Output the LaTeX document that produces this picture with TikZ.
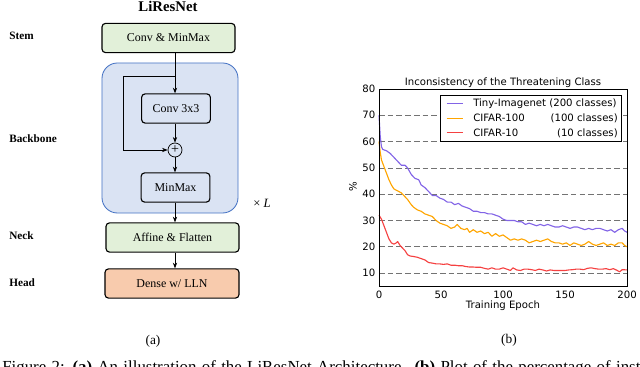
\documentclass[tikz,border=0pt]{standalone}
\usepackage{fontspec}
\setmainfont{Liberation Serif}
\newfontfamily\plotfont{DejaVu Sans}
\usetikzlibrary{arrows.meta, positioning, calc}

\definecolor{stemgreen}{RGB}{226,240,217}
\definecolor{bbfill}{RGB}{218,227,243}
\definecolor{bbdraw}{RGB}{68,114,196}
\definecolor{headfill}{RGB}{248,203,173}
\definecolor{tinypurple}{RGB}{130,100,230}
\definecolor{cifarorange}{RGB}{255,165,0}
\definecolor{cifarred}{RGB}{245,65,65}

\begin{document}
\begin{tikzpicture}[
    x=0.025cm, y=-0.025cm,
    block/.style={draw, rounded corners=2.5pt, line width=0.8pt, minimum height=0.73cm, inner sep=0pt, font=\fontsize{8.5}{10}\selectfont},
    block_green/.style={block, fill=stemgreen, minimum width=3.325cm},
    block_blue/.style={block, fill=bbfill, minimum width=1.72cm},
    block_head/.style={block, fill=headfill, minimum width=3.35cm},
    stage/.style={anchor=west, inner sep=0pt, font=\fontsize{8}{10}\selectfont\bfseries},
    arrow/.style={-{Stealth[length=4pt, width=3pt]}, line width=0.5pt},
    grid_line/.style={black!55, line width=0.45pt, dash pattern=on 4pt off 2.2pt},
    plot_txt/.style={inner sep=0pt, font=\plotfont\fontsize{7.2}{8.5}\selectfont},
    curve/.style={line width=0.8pt, line join=round},
]
\useasboundingbox (0,0) rectangle (640,367);

% (a) architecture
\node[anchor=base, font=\fontsize{10.5}{12}\selectfont\bfseries] (title_a) at (168,12) {LiResNet};

\node[draw=bbdraw, fill=bbfill, line width=0.6pt, rounded corners=11pt, minimum width=3.4cm, minimum height=3.75cm] (backbone) at (170,138) {};

\node[block_green] (stem) at (168.5,38) {Conv \& MinMax};
\node[block_blue] (conv) at (176,108.5) {Conv 3x3};
\node[draw, circle, fill=bbfill, line width=0.5pt, minimum size=0.35cm, inner sep=0pt, font=\fontsize{10}{10}\selectfont] (plus) at (175,150) {+};
\node[block_blue] (minmax) at (175.5,187.5) {MinMax};
\node[block_green] (neck) at (172.5,237.5) {Affine \& Flatten};
\node[block_head] (head) at (172,283.5) {Dense w/ LLN};

\node[font=\fontsize{9}{10}\selectfont] (repeat) at (262,203) {× \textit{L}};

\node[stage] (stem_lbl) at (9,36) {Stem};
\node[stage] (backbone_lbl) at (9,139) {Backbone};
\node[stage] (neck_lbl) at (9,236) {Neck};
\node[stage] (head_lbl) at (9,283) {Head};

% main path
\draw[arrow] (stem.south -| plus) -- (conv.north -| plus);
\draw[arrow] (conv.south -| plus) -- (plus);
\draw[arrow] (plus) -- (minmax.north -| plus);
\draw[arrow] (minmax.south -| plus) -- (neck.north -| plus);
\draw[arrow] (neck.south -| plus) -- (head.north -| plus);

% skip connection
\coordinate (skip_start) at (175,76);
\coordinate (skip_corner) at (123,76);
\draw[arrow] (skip_start) -- (skip_corner) |- (plus);

\node[font=\fontsize{9.5}{11}\selectfont] (sub_a) at (153,341) {(a)};

% (b) plot
\coordinate (plot_org) at (379,299.4);
\begin{scope}[shift={(plot_org)}, x=0.031cm, y=0.06575cm]
\foreach \v in {10,20,...,70}
    \draw[grid_line] (0,\v) -- (200,\v);

\draw[curve, tinypurple] (0,70) -- (1,62) -- (2,58) -- (3,57) -- (6,56.5) -- (9,55.5) -- (12,54) -- (15,52.5) -- (18,51) -- (21,51) -- (23,50) -- (26,47.5) -- (29,46) -- (32,45.5) -- (34,43.5) -- (37,42.5) -- (40,41) -- (43,39.5) -- (46,39.5) -- (49,38.5) -- (52,38) -- (55,37) -- (58,37) -- (61,36) -- (64,36.5) -- (67,35.5) -- (70,35) -- (73,34.5) -- (76,33.5) -- (79,33.5) -- (82,33) -- (85,33) -- (88,32.5) -- (91,32.5) -- (94,32) -- (97,31.5) -- (100,30.5) -- (103,30) -- (106,30) -- (109,30) -- (112,29.5) -- (115,29.5) -- (118,28.5) -- (121,29) -- (124,28.5) -- (127,28) -- (130,28.5) -- (133,28) -- (136,28.5) -- (139,28) -- (142,27.5) -- (145,27.5) -- (148,28) -- (151,27.5) -- (154,27) -- (157,27.5) -- (160,27.5) -- (163,27) -- (166,26.5) -- (169,27) -- (172,26.5) -- (175,27) -- (178,27) -- (181,26.5) -- (184,26) -- (187,26.5) -- (190,25.5) -- (193,26.5) -- (196,27) -- (198,26) -- (200,25.5);

\draw[curve, cifarorange] (0,60) -- (1,56) -- (2,53) -- (4,50.5) -- (6,48) -- (8,45.5) -- (10,43.5) -- (12,42) -- (14,41.5) -- (16,41) -- (18,40.5) -- (20,39.5) -- (23,38) -- (26,36) -- (28,35) -- (31,34) -- (34,33.5) -- (37,32.5) -- (40,32) -- (43,31.5) -- (46,30) -- (49,29) -- (52,28.5) -- (55,28) -- (58,27) -- (61,27.5) -- (63,28.5) -- (66,27) -- (69,26.5) -- (71,27) -- (73,25.5) -- (76,26.5) -- (79,25.5) -- (82,26) -- (85,25) -- (88,25.5) -- (91,24) -- (94,25) -- (97,24) -- (100,24.5) -- (103,23.5) -- (106,22.5) -- (109,23) -- (112,22.5) -- (115,23) -- (118,22.5) -- (121,21.5) -- (124,22) -- (127,22.5) -- (130,22) -- (133,22.5) -- (136,23) -- (139,22) -- (142,21.5) -- (145,21.5) -- (148,21) -- (151,21.5) -- (154,20.5) -- (157,21.5) -- (160,21) -- (163,20.5) -- (166,21) -- (169,22) -- (172,21) -- (175,20.5) -- (178,21) -- (181,21.5) -- (184,20.5) -- (187,21) -- (190,20.5) -- (193,21.5) -- (196,21.5) -- (198,20.5) -- (200,20);

\draw[curve, cifarred] (0,32) -- (2,30.5) -- (4,28) -- (6,25.5) -- (8,23) -- (10,21.5) -- (12,21) -- (14,21.5) -- (15,22) -- (17,20.5) -- (19,19.5) -- (21,18.5) -- (23,17) -- (25,16.5) -- (28,16.3) -- (31,16) -- (34,15.5) -- (37,15) -- (40,14) -- (43,13.8) -- (46,13.5) -- (49,13.5) -- (52,13.3) -- (55,13.5) -- (58,13) -- (61,13) -- (64,12.8) -- (67,12.8) -- (70,12.5) -- (73,12.3) -- (76,12.3) -- (79,12.2) -- (82,12.2) -- (85,11.8) -- (88,11.5) -- (91,12) -- (94,11.5) -- (97,11.5) -- (100,12) -- (103,11.5) -- (106,11) -- (108,12) -- (111,11.2) -- (114,11) -- (117,11.5) -- (120,11.5) -- (123,11.3) -- (126,11) -- (129,11.5) -- (132,11.2) -- (135,10.8) -- (138,11.2) -- (141,11) -- (144,11) -- (147,11) -- (150,11) -- (153,11.2) -- (156,11.3) -- (159,11.5) -- (162,11.5) -- (165,11.3) -- (168,11.8) -- (171,12) -- (174,11.7) -- (177,11.5) -- (180,11.5) -- (183,11.7) -- (186,11.3) -- (189,11.7) -- (192,11) -- (194,10.5) -- (196,11.3) -- (200,11.2);

\draw[line width=0.6pt] (0,5) rectangle (200,80);

\foreach \e in {0,50,...,200}
    \node[plot_txt, anchor=north, yshift=-3pt] (xt_\e) at (\e,5) {\e};
\foreach \v in {10,20,...,80}
    \node[plot_txt, anchor=east, xshift=-2.5pt] (yt_\v) at (0,\v) {\v};
\end{scope}

\node[plot_txt, anchor=base] (title_b) at (503,85.5) {Inconsistency of the Threatening Class};
\node[plot_txt, anchor=base] (xlabel) at (503,309) {Training Epoch};
\node[plot_txt, rotate=90] (ylabel) at (353,187) {\%};

% legend
\node[draw, fill=white, line width=0.6pt, minimum width=4.54cm, minimum height=1.17cm] (legend) at (530.85,118.35) {};
\draw[curve, tinypurple] (446.7,103.3) -- (462.7,103.3);
\draw[curve, cifarorange] (446.7,118.3) -- (462.7,118.3);
\draw[curve, cifarred] (446.7,132.7) -- (462.7,132.7);
\node[plot_txt, anchor=base west] (lg_tiny) at (473,107) {Tiny-Imagenet (200 classes)};
\node[plot_txt, anchor=base west] (lg_c100) at (473,122) {CIFAR-100};
\node[plot_txt, anchor=base east] (lg_c100_n) at (618,122) {(100 classes)};
\node[plot_txt, anchor=base west] (lg_c10) at (473,136.3) {CIFAR-10};
\node[plot_txt, anchor=base east] (lg_c10_n) at (618,136.3) {(10 classes)};

\node[font=\fontsize{9.5}{11}\selectfont] (sub_b) at (509,340) {(b)};

% caption, cut by the page edge
\node[anchor=base west, inner sep=0pt, font=\fontsize{12}{14}\selectfont] (caption) at (2,373) {\makebox[15.95cm][s]{Figure 2: \textbf{(a)} An illustration of the LiResNet Architecture. \textbf{(b)} Plot of the percentage of inst}};

\end{tikzpicture}
\end{document}
